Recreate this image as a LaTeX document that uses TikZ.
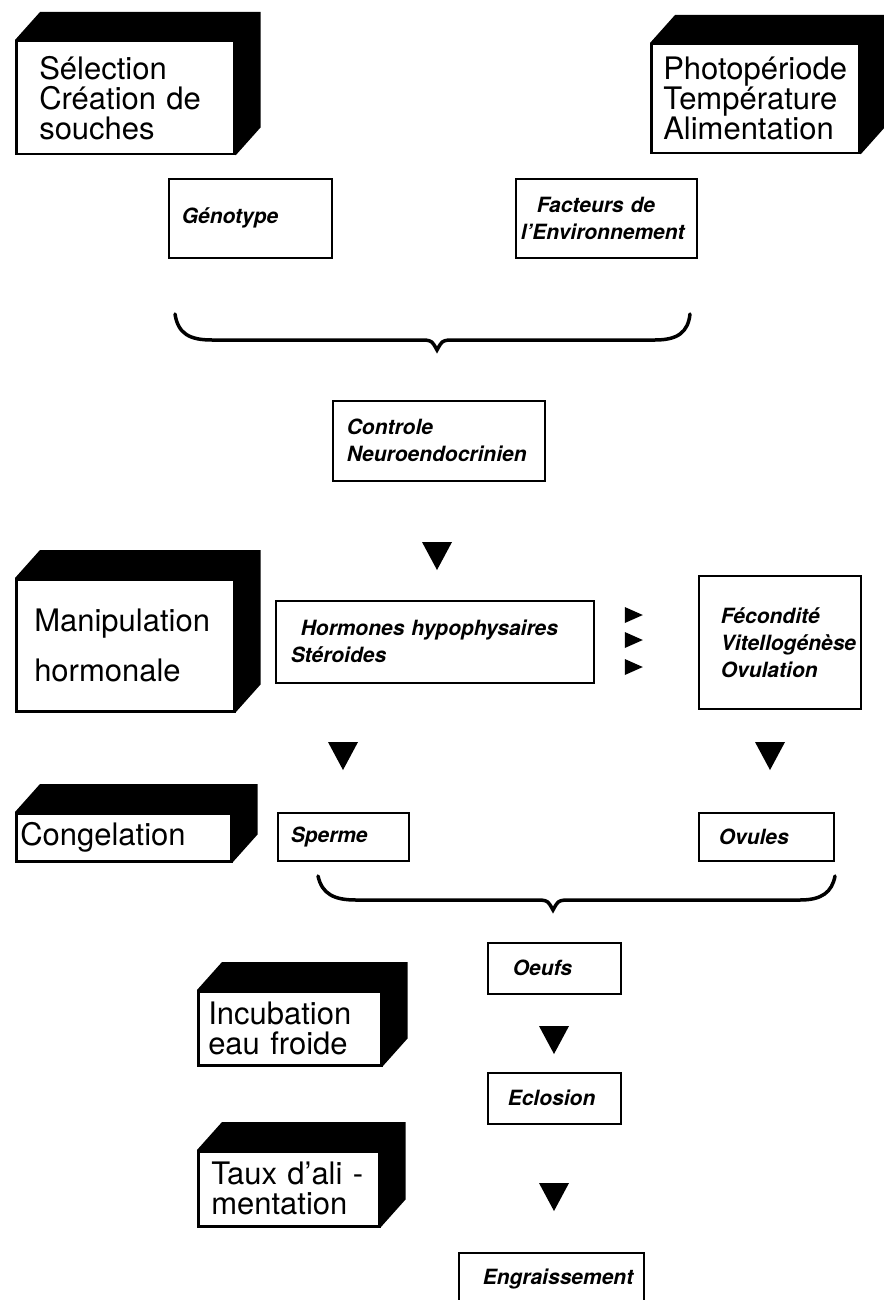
\documentclass[tikz,border=0pt]{standalone}
\usepackage{fontspec}
\setmainfont{TeX Gyre Heros}
\usetikzlibrary{shapes.geometric}
\tikzset{
  cube/.style={draw, line width=2.5pt, fill=white, anchor=north west, align=left, inner ysep=0pt, font=\fontsize{31pt}{30pt}\selectfont},
  box/.style={draw, line width=1.6pt, anchor=north west, align=left, inner ysep=0pt, font=\fontsize{21pt}{27pt}\selectfont\bfseries\itshape},
  tri/.style={isosceles triangle, isosceles triangle stretches, fill=black, inner sep=0pt, minimum width=30pt, minimum height=28pt, rotate=-90},
  tinytri/.style={isosceles triangle, isosceles triangle stretches, fill=black, inner sep=0pt, minimum width=16pt, minimum height=18pt},
  brace/.style={line width=3.5pt, line cap=round}
}

\begin{document}
\begin{tikzpicture}[x=1pt, y=-1pt]
\useasboundingbox (0,0) rectangle (883,1300);

% levers (black blocks)
\node (sel) [cube, inner xsep=23pt, text width=172pt, minimum height=113pt] at (15,40) {S\'election\\Cr\'eation de\\souches};
\node (env) [cube, inner xsep=12pt, text width=184pt, minimum height=109pt] at (650,43) {Photop\'eriode\\Temp\'erature\\Alimentation};
\node (manip) [cube, inner xsep=18pt, text width=182pt, minimum height=132pt] at (15,578) {Manipulation\\[20pt]hormonale};
\node (cong) [cube, inner xsep=4pt, text width=207pt, minimum height=48pt] at (15,812) {Congelation};
\node (incub) [cube, inner xsep=10pt, text width=163pt, minimum height=74pt] at (197,990) {Incubation\\eau froide};
\node (taux) [cube, inner xsep=13pt, text width=155pt, minimum height=75pt] at (197,1150) {Taux d’ali -\\mentation};

\foreach \b in {sel,env,manip,cong,incub,taux}
  \fill (\b.north west) -- ++(25pt,28pt) -- ([shift={(25pt,28pt)}]\b.north east)
    -- ([shift={(25pt,28pt)}]\b.south east) -- (\b.south east) -- (\b.north east) -- cycle;

% steps
\node (geno) [box, inner xsep=13pt, text width=137pt, minimum height=79pt] at (168,178) {G\'enotype};
\node (fact) [box, inner xsep=5pt, text width=171pt, minimum height=79pt] at (515,178) {\hspace{16pt}Facteurs de\\l’Environnement};
\node (ctrl) [box, inner xsep=14pt, text width=184pt, minimum height=80pt] at (332,400) {Controle\\Neuroendocrinien};
\node (horm) [box, inner xsep=15pt, text width=288pt, minimum height=82pt] at (275,600) {\hspace{10pt}Hormones hypophysaires\\St\'eroides};
\node (fec) [box, inner xsep=22pt, text width=118pt, minimum height=133pt] at (698,575) {F\'econdit\'e\\Vitellog\'en\`ese\\Ovulation};
\node (sperm) [box, inner xsep=13pt, text width=105pt, minimum height=48pt] at (277,812) {Sperme};
\node (ovu) [box, inner xsep=20pt, text width=95pt, minimum height=48pt] at (698,812) {Ovules};
\node (oeuf) [box, inner xsep=25pt, text width=83pt, minimum height=51pt] at (487,942) {Oeufs};
\node (eclo) [box, inner xsep=20pt, text width=93pt, minimum height=51pt] at (487,1072) {Eclosion};
\node (engr) [box, inner xsep=24pt, text width=137pt, minimum height=52pt] at (458,1252) {Engraissement};

% arrows
\node (t1) [tri] at (437,551) {};
\node (t2) [tri] at (343,751) {};
\node (t3) [tri] at (770,751) {};
\node (t4) [tri] at (554,1035) {};
\node (t5) [tri] at (554,1192) {};
\foreach \y [count=\i] in {615,640,667}
  \node (h\i) [tinytri] at (630,\y) {};

% braces
\draw[brace] (175,314) .. controls (178,334) and (190,340) .. (212,340) -- (425,340)
  .. controls (432,341) .. (437,350) .. controls (442,341) .. (449,340) -- (655,340)
  .. controls (678,340) and (688,332) .. (690,314);
\draw[brace] (318,876) .. controls (322,894) and (334,900) .. (356,900) -- (541,900)
  .. controls (548,901) .. (553,910) .. controls (558,901) .. (565,900) -- (800,900)
  .. controls (822,900) and (832,892) .. (835,876);
\end{tikzpicture}
\end{document}
